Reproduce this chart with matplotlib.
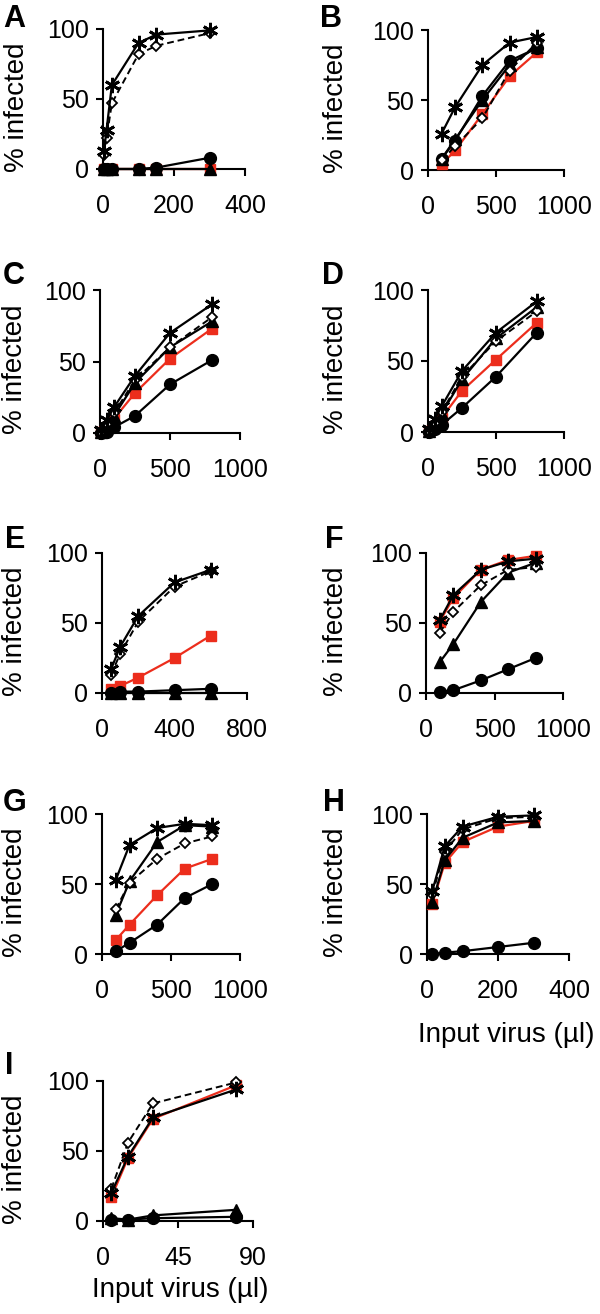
import matplotlib.pyplot as plt

plt.rcParams['font.family'] = ['Liberation Sans', 'DejaVu Sans']

# ---- data (% infected vs input virus, ul) ----
A_x = [3, 10, 25, 100, 150, 300]
A_ast = [13, 28, 60, 90, 96, 99]
A_dia = [10, 22, 47, 82, 88, 97]
A_cir = [0, 0, 0, 0, 1, 8]
A_tri = [0, 0, 0, 0, 0, 0]
A_red = [0, 0, 0, 0, 0, 0]

B_x = [100, 200, 400, 600, 800]
B_ast = [26, 45, 75, 91, 95]
B_dia = [7, 17, 37, 71, 91]
B_cir = [8, 21, 53, 78, 87]
B_tri = [8, 22, 50, 75, 88]
B_red = [4, 14, 40, 67, 84]

C_x = [10, 50, 100, 250, 500, 800]
C_ast = [2, 9, 18, 40, 70, 90]
C_dia = [1, 6, 14, 37, 60, 81]
C_cir = [0, 1, 4, 12, 34, 51]
C_tri = [1, 5, 12, 35, 60, 78]
C_red = [1, 4, 10, 28, 52, 73]

D_x = [10, 50, 100, 250, 500, 800]
D_ast = [2, 9, 18, 43, 70, 92]
D_dia = [1, 6, 14, 39, 64, 85]
D_cir = [0, 2, 5, 17, 39, 70]
D_tri = [1, 6, 13, 37, 66, 88]
D_red = [1, 4, 10, 29, 51, 77]

E_x = [50, 100, 200, 400, 600]
E_ast = [17, 33, 55, 79, 88]
E_dia = [13, 28, 51, 76, 87]
E_cir = [0, 1, 1, 2, 3]
E_tri = [0, 0, 0, 0, 0]
E_red = [3, 5, 11, 25, 41]

F_x = [100, 200, 400, 600, 800]
F_ast = [52, 70, 88, 94, 96]
F_dia = [43, 58, 77, 88, 90]
F_cir = [1, 2, 9, 17, 25]
F_tri = [22, 35, 65, 86, 93]
F_red = [51, 68, 88, 95, 98]

G_x = [100, 200, 400, 600, 800]
G_ast = [53, 78, 90, 93, 92]
G_dia = [32, 51, 68, 79, 84]
G_cir = [2, 8, 21, 40, 50]
G_tri = [28, 52, 80, 92, 91]
G_red = [10, 21, 42, 61, 68]

H_x = [15, 50, 100, 200, 300]
H_ast = [45, 77, 91, 98, 99]
H_dia = [43, 73, 89, 97, 98]
H_cir = [0, 1, 2, 5, 8]
H_tri = [37, 67, 83, 94, 95]
H_red = [36, 65, 80, 91, 95]

I_x = [5, 15, 30, 80]
I_ast = [20, 46, 74, 94]
I_dia = [23, 56, 84, 99]
I_cir = [1, 1, 2, 3]
I_tri = [2, 1, 4, 8]
I_red = [17, 45, 73, 97]

x_ticks = {
    'A': [0, 200, 400], 'B': [0, 500, 1000], 'C': [0, 500, 1000],
    'D': [0, 500, 1000], 'E': [0, 400, 800], 'F': [0, 500, 1000],
    'G': [0, 500, 1000], 'H': [0, 200, 400], 'I': [0, 45, 90],
}

data = {
    'A': (A_x, A_red, A_tri, A_cir, A_dia, A_ast),
    'B': (B_x, B_red, B_tri, B_cir, B_dia, B_ast),
    'C': (C_x, C_red, C_tri, C_cir, C_dia, C_ast),
    'D': (D_x, D_red, D_tri, D_cir, D_dia, D_ast),
    'E': (E_x, E_red, E_tri, E_cir, E_dia, E_ast),
    'F': (F_x, F_red, F_tri, F_cir, F_dia, F_ast),
    'G': (G_x, G_red, G_tri, G_cir, G_dia, G_ast),
    'H': (H_x, H_red, H_tri, H_cir, H_dia, H_ast),
    'I': (I_x, I_red, I_tri, I_cir, I_dia, I_ast),
}

# layout in pixels: axes box (left, top, right, bottom), letter pos, ylabel centre x
W, Hpx = 600, 1314
layout = {
    'A': ((103, 29, 245, 169), (3, 4), 17),
    'B': ((428, 30, 564, 170), (320, 4), 336),
    'C': ((100, 290, 240, 433), (3, 261), 15),
    'D': ((428, 290, 564, 432), (322, 261), 336),
    'E': ((102, 553, 247, 693), (5, 525), 15),
    'F': ((426, 553, 563, 693), (325, 525), 336),
    'G': ((102, 814, 240, 954), (3, 788), 15),
    'H': ((427, 814, 569, 954), (323, 788), 336),
    'I': ((103, 1081, 253, 1221), (5, 1051), 15),
}
xlabel_pos = {'H': (506, 1035), 'I': (180, 1290)}
ylabel_shift = 8  # label centre sits a little below the axes centre

red = '#ec2d1c'

fig = plt.figure(figsize=(6, 13.14), dpi=100)

for key in 'ABCDEFGHI':
    (l, t, r, b), (lx, ly), ylx = layout[key]
    ax = fig.add_axes([l / W, 1 - b / Hpx, (r - l) / W, (b - t) / Hpx])
    x, s_red, s_tri, s_cir, s_dia, s_ast = data[key]

    ax.plot(x, s_red, color=red, lw=1.6, marker='s', ms=7, mfc=red, mec=red, clip_on=False, zorder=3)
    ax.plot(x, s_tri, color='black', lw=1.6, marker='^', ms=8, clip_on=False, zorder=4)
    ax.plot(x, s_cir, color='black', lw=1.6, marker='o', ms=8.5, clip_on=False, zorder=5)
    ax.plot(x, s_dia, color='black', lw=1.4, ls=(0, (3.5, 2)), marker='D', ms=5.5,
            mfc='white', mec='black', mew=1.3, clip_on=False, zorder=6)
    ax.plot(x, s_ast, color='black', lw=1.6, marker=(6, 2, 0), ms=11, mew=2,
            clip_on=False, zorder=7)

    xt = x_ticks[key]
    ax.set_xlim(0, xt[-1])
    ax.set_ylim(0, 100)
    ax.set_xticks(xt)
    ax.set_yticks([0, 50, 100])
    for side in ['top', 'right']:
        ax.spines[side].set_visible(False)
    for side in ['left', 'bottom']:
        ax.spines[side].set_linewidth(1.5)
    ax.tick_params(direction='out', length=5, width=1.5, labelsize=18)
    ax.tick_params(axis='x', pad=13)
    ax.tick_params(axis='y', pad=5)

    ax.set_ylabel('% infected', fontsize=20)
    ax.yaxis.set_label_coords((ylx - l) / (r - l), 0.5 - ylabel_shift / (b - t))
    ax.yaxis.label.set_va('center')

    if key in xlabel_pos:
        xx, yy = xlabel_pos[key]
        ax.set_xlabel('Input virus (\u00b5l)', fontsize=20)
        ax.xaxis.set_label_coords((xx - l) / (r - l), (b - yy) / (b - t))
        ax.xaxis.label.set_va('center')

    fig.text(lx / W, 1 - ly / Hpx, key, fontsize=22, fontweight='bold', va='top', ha='left')

fig.savefig('out.png', dpi=100)
